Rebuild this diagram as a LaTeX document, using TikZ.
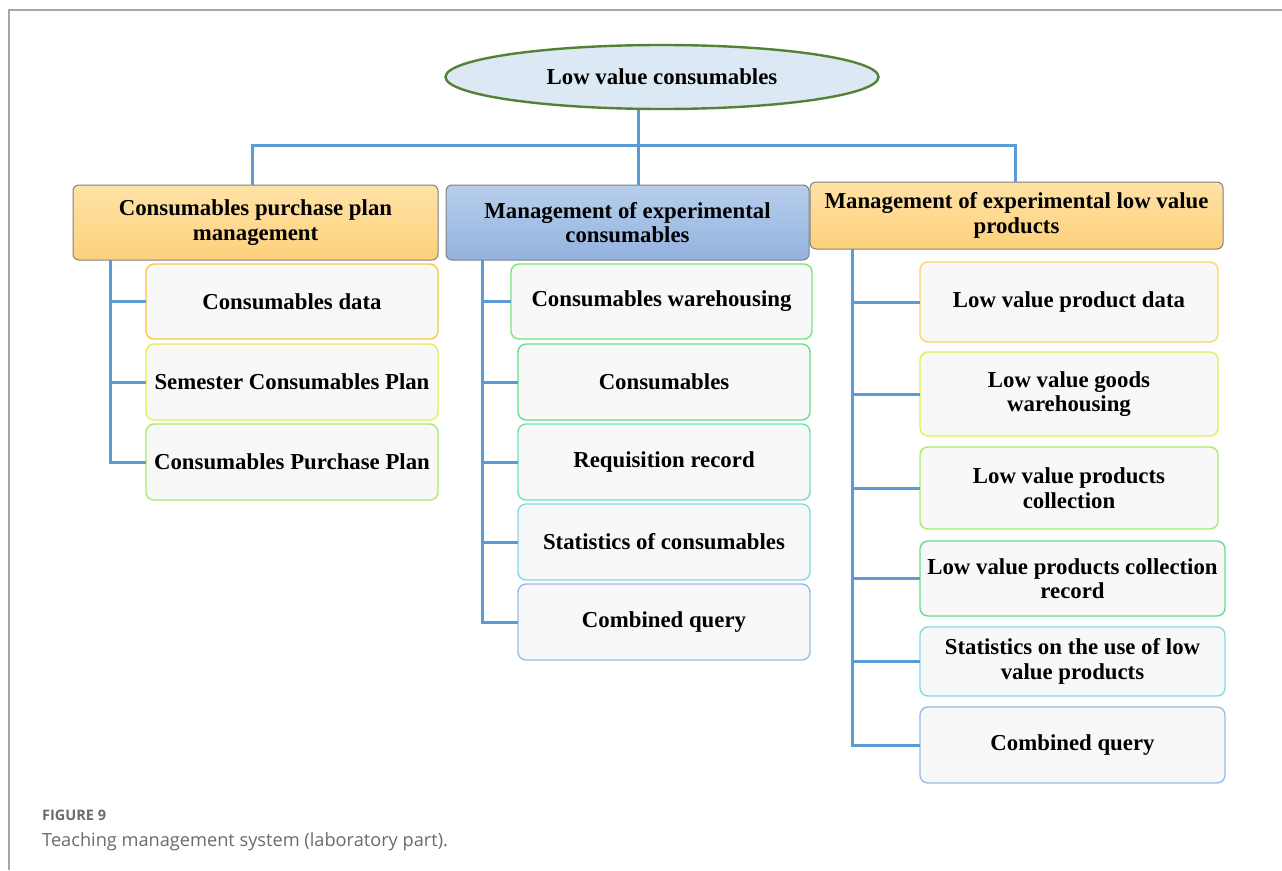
\documentclass[tikz,border=0pt]{standalone}
\usepackage{fontspec}
\setmainfont{Liberation Serif}
\newfontfamily\capfont{Open Sans}
\usepackage{xcolor}
\usepackage{tikz}
\usetikzlibrary{shapes.geometric}

\definecolor{linkblue}{HTML}{5B9BD5}
\definecolor{rootfill}{HTML}{DDE8F5}
\definecolor{rootedge}{HTML}{548235}
\definecolor{orgtop}{HTML}{FFE2A6}
\definecolor{orgbot}{HTML}{FDD17C}
\definecolor{blutop}{HTML}{B7CFEC}
\definecolor{blubot}{HTML}{93B2DE}
\definecolor{leaffill}{HTML}{F8F8F8}
\definecolor{eA}{HTML}{FFC83C}
\definecolor{eB}{HTML}{E2F050}
\definecolor{eC}{HTML}{A8EC68}
\definecolor{eD}{HTML}{74E874}
\definecolor{eE}{HTML}{62DE8C}
\definecolor{eF}{HTML}{6EE2B4}
\definecolor{eG}{HTML}{82DCE2}
\definecolor{eH}{HTML}{98BCE6}
\definecolor{capgray}{HTML}{6B6B6B}

\begin{document}
\begin{tikzpicture}[x=1pt, y=-1pt,
    link/.style={draw=linkblue, line width=3pt},
    head/.style={draw=black!50, line width=1pt, rounded corners=6pt, anchor=north west,
        inner sep=2pt, outer sep=0pt, align=center,
        font=\bfseries\fontsize{22.8}{24.5}\selectfont},
    orghead/.style={head, top color=orgtop, bottom color=orgbot},
    bluhead/.style={head, top color=blutop, bottom color=blubot},
    leaf/.style={fill=leaffill, line width=1.4pt, rounded corners=8pt, anchor=north west,
        inner sep=2pt, outer sep=0pt, align=center,
        font=\bfseries\fontsize{22.8}{24.5}\selectfont}]
        \useasboundingbox (0, 0) rectangle (1282, 870);
        \draw[capgray!60, line width=1.2pt] (9, 870) -- (9, 10) -- (1282, 10);

        % root and first level
        \node[ellipse, draw=rootedge, fill=rootfill, line width=2.4pt, minimum width=433, minimum height=64,
            inner sep=0pt, font=\bfseries\fontsize{22.8}{24.5}\selectfont] (root) at (662, 77) {Low value consumables};
        \node[orghead, minimum width=365, minimum height=75] (h1) at (73, 185) {Consumables purchase plan\\management};
        \node[bluhead, minimum width=363, minimum height=75] (h2) at (446, 185) {Management of experimental\\consumables};
        \node[orghead, minimum width=413, minimum height=67] (h3) at (810, 182) {Management of experimental low value\\products};

        \coordinate (bus) at (638, 145);
        \draw[link] (root.south -| bus) -- (bus) -- (bus |- h2.north);
        \draw[link] (h1.north -| 252, 0) |- (bus) -| (h3.north -| 1015, 0);

        % column 1
        \node[leaf, draw=eA, minimum width=292, minimum height=75] (c11) at (146, 264) {Consumables data};
        \node[leaf, draw=eB, minimum width=292, minimum height=76] (c12) at (146, 344) {Semester Consumables Plan};
        \node[leaf, draw=eC, minimum width=292, minimum height=76] (c13) at (146, 424) {Consumables Purchase Plan};
        \coordinate (t1) at (110, 0);
        \draw[link] (t1 |- h1.south) -- (t1 |- c13.west) -- (c13.west);
        \foreach \c in {c11, c12}
            \draw[link] (t1 |- \c.west) -- (\c.west);

        % column 2
        \node[leaf, draw=eD, minimum width=301, minimum height=75] (c21) at (511, 264) {Consumables warehousing};
        \node[leaf, draw=eE, minimum width=292, minimum height=76] (c22) at (518, 344) {Consumables};
        \node[leaf, draw=eF, minimum width=292, minimum height=76] (c23) at (518, 424) {Requisition record};
        \node[leaf, draw=eG, minimum width=292, minimum height=76] (c24) at (518, 504) {Statistics of consumables};
        \node[leaf, draw=eH, minimum width=292, minimum height=76] (c25) at (518, 584) {Combined query};
        \coordinate (t2) at (482, 0);
        \draw[link] (t2 |- h2.south) -- (t2 |- c25.west) -- (c25.west);
        \foreach \c in {c21, c22, c23, c24}
            \draw[link] (t2 |- \c.west) -- (\c.west);

        % column 3
        \node[leaf, draw=eA!80, minimum width=298, minimum height=80] (c31) at (920, 262) {Low value product data};
        \node[leaf, draw=eB, minimum width=298, minimum height=84] (c32) at (920, 352) {Low value goods\\warehousing};
        \node[leaf, draw=eC, minimum width=298, minimum height=82] (c33) at (920, 447) {Low value products\\collection};
        \node[leaf, draw=eE, minimum width=305, minimum height=75] (c34) at (920, 541) {Low value products collection\\record};
        \node[leaf, draw=eG, minimum width=305, minimum height=69] (c35) at (920, 627) {Statistics on the use of low\\value products};
        \node[leaf, draw=eH, minimum width=305, minimum height=76] (c36) at (920, 707) {Combined query};
        \coordinate (t3) at (852, 0);
        \draw[link] (t3 |- h3.south) -- (t3 |- c36.west) -- (c36.west);
        \foreach \c in {c31, c32, c33, c34, c35}
            \draw[link] (t3 |- \c.west) -- (\c.west);

        % caption
        \node[anchor=base west, inner sep=0pt, text=capgray, font=\capfont\bfseries\fontsize{14.5}{16}\selectfont] (fig) at (42, 820) {FIGURE 9};
        \node[anchor=base west, inner sep=0pt, text=capgray, font=\capfont\fontsize{18.2}{21}\selectfont] (cap) at (42, 846) {Teaching management system (laboratory part).};
    \end{tikzpicture}
\end{document}
